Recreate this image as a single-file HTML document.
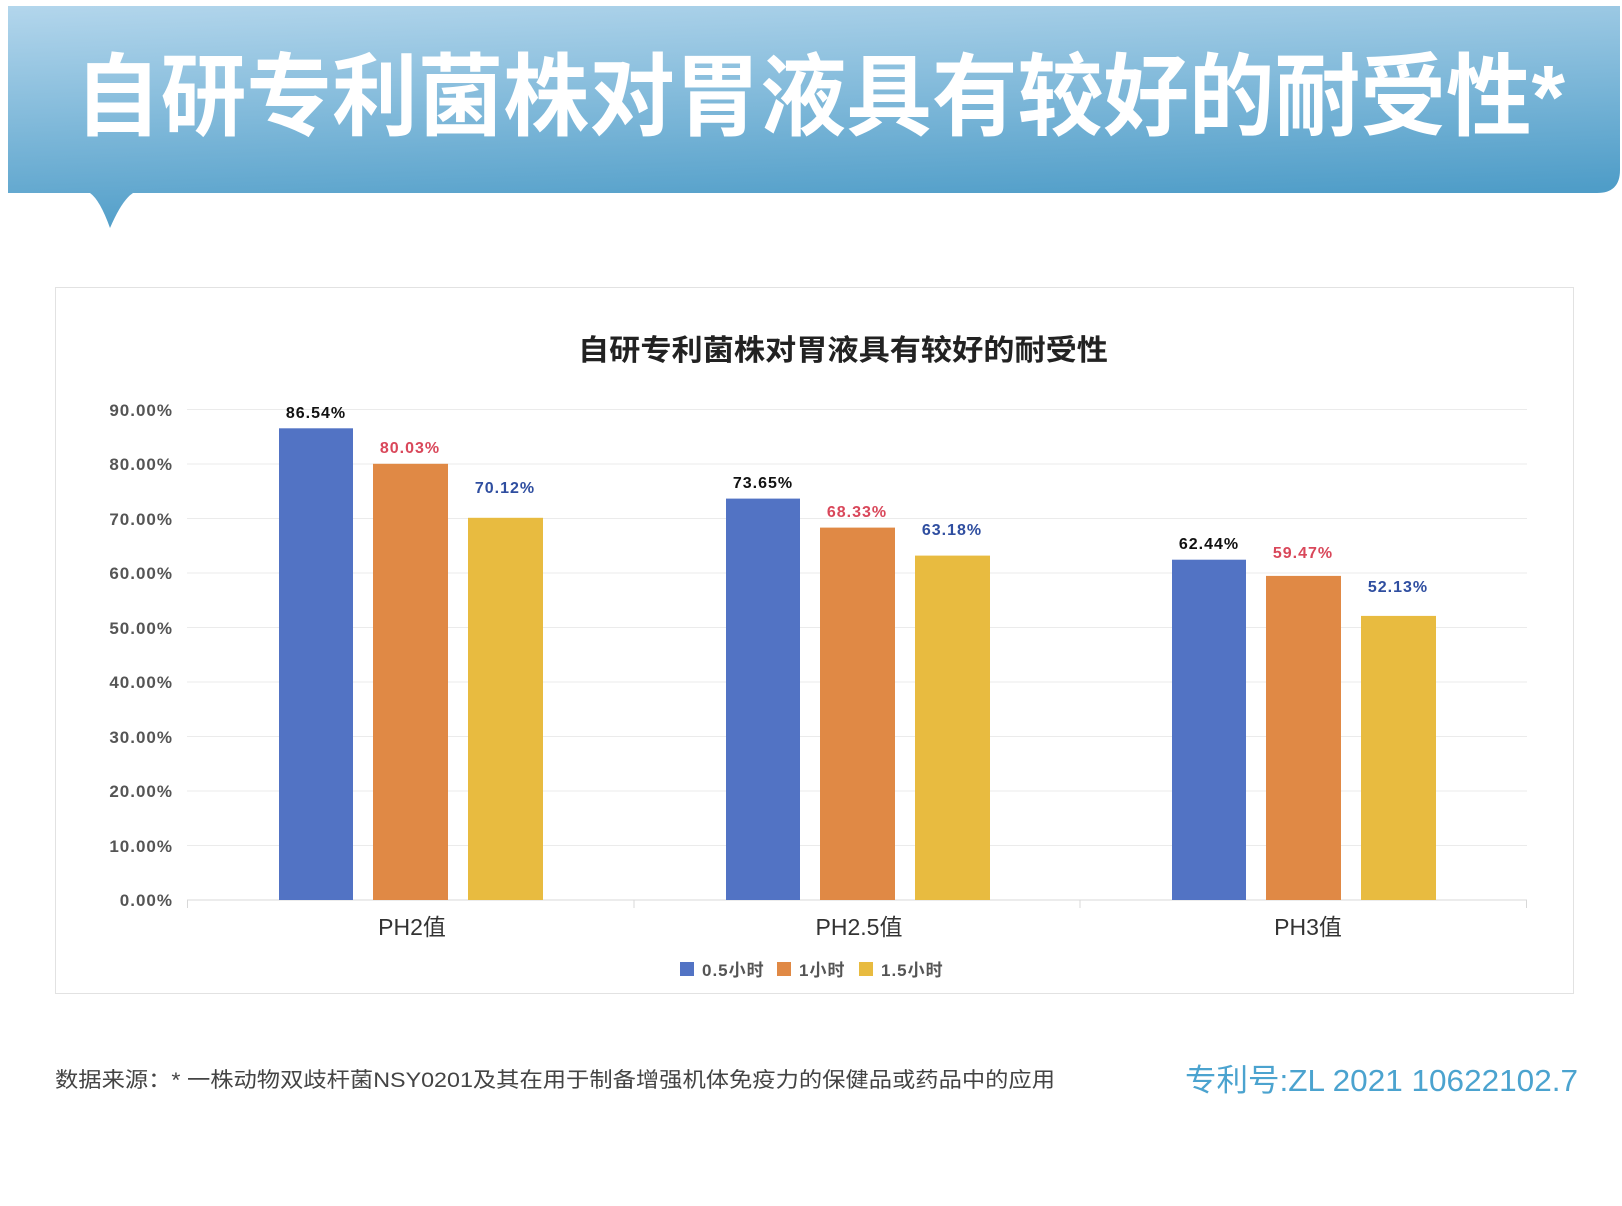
<!DOCTYPE html>
<html><head><meta charset="utf-8"><style>
body{margin:0;background:#fff;width:1622px;height:1206px;overflow:hidden;position:relative;font-family:"Liberation Sans","Noto Sans CJK SC",sans-serif}
</style></head><body>
<svg width="1622" height="1206" viewBox="0 0 1622 1206" style="position:absolute;left:0;top:0" font-family="Liberation Sans, Noto Sans CJK SC, sans-serif">
<defs>
<linearGradient id="g" x1="0" y1="0" x2="0.25" y2="1">
<stop offset="0" stop-color="#b3d6ec"/><stop offset="1" stop-color="#4f9dc8"/>
</linearGradient>
</defs>
<path d="M8,6 H1620 V170 Q1620,193 1597,193 H133 Q122,200 110,228 Q100,200 90,193 H8 Z" fill="url(#g)"/>
<text x="820" y="128" text-anchor="middle" font-size="90" font-weight="bold" fill="#fff" textLength="1490" lengthAdjust="spacingAndGlyphs">自研专利菌株对胃液具有较好的耐受性*</text>
<rect x="55.5" y="287.5" width="1518" height="706" fill="#fff" stroke="#e2e2e2"/>
<text x="843" y="360" text-anchor="middle" font-size="29" font-weight="bold" fill="#222" textLength="530" lengthAdjust="spacingAndGlyphs">自研专利菌株对胃液具有较好的耐受性</text>
<g stroke="#ebebeb" stroke-width="1">
<line x1="187" x2="1527" y1="409.5" y2="409.5"/><line x1="187" x2="1527" y1="464" y2="464"/>
<line x1="187" x2="1527" y1="518.5" y2="518.5"/><line x1="187" x2="1527" y1="573" y2="573"/>
<line x1="187" x2="1527" y1="627.5" y2="627.5"/><line x1="187" x2="1527" y1="682" y2="682"/>
<line x1="187" x2="1527" y1="736.5" y2="736.5"/><line x1="187" x2="1527" y1="791" y2="791"/>
<line x1="187" x2="1527" y1="845.5" y2="845.5"/>
</g>
<g stroke="#d8d8d8"><line x1="187" x2="1527" y1="900" y2="900"/>
<line x1="187.5" x2="187.5" y1="900" y2="908"/><line x1="634" x2="634" y1="900" y2="908"/><line x1="1080" x2="1080" y1="900" y2="908"/><line x1="1526.5" x2="1526.5" y1="900" y2="908"/></g>
<g font-size="17" font-weight="bold" fill="#555" text-anchor="end" letter-spacing="1">
<text x="173" y="416">90.00%</text><text x="173" y="470">80.00%</text><text x="173" y="525">70.00%</text>
<text x="173" y="579">60.00%</text><text x="173" y="634">50.00%</text><text x="173" y="688">40.00%</text>
<text x="173" y="743">30.00%</text><text x="173" y="797">20.00%</text><text x="173" y="852">10.00%</text>
<text x="173" y="906">0.00%</text>
</g>
<g>
<rect x="279" y="428.3" width="74" height="471.7" fill="#5273c4"/>
<rect x="373" y="463.8" width="75" height="436.2" fill="#e08945"/>
<rect x="468" y="517.8" width="75" height="382.2" fill="#e8bb40"/>
<rect x="726" y="498.6" width="74" height="401.4" fill="#5273c4"/>
<rect x="820" y="527.6" width="75" height="372.4" fill="#e08945"/>
<rect x="915" y="555.6" width="75" height="344.4" fill="#e8bb40"/>
<rect x="1172" y="559.7" width="74" height="340.3" fill="#5273c4"/>
<rect x="1266" y="575.9" width="75" height="324.1" fill="#e08945"/>
<rect x="1361" y="615.9" width="75" height="284.1" fill="#e8bb40"/>
</g>
<g font-size="16" font-weight="bold" text-anchor="middle" letter-spacing="1">
<text x="316" y="418" fill="#111">86.54%</text><text x="410" y="453" fill="#d9475a">80.03%</text><text x="505" y="493" fill="#2f4ea0">70.12%</text>
<text x="763" y="488" fill="#111">73.65%</text><text x="857" y="517" fill="#d9475a">68.33%</text><text x="952" y="535" fill="#2f4ea0">63.18%</text>
<text x="1209" y="549" fill="#111">62.44%</text><text x="1303" y="558" fill="#d9475a">59.47%</text><text x="1398" y="592" fill="#2f4ea0">52.13%</text>
</g>
<g font-size="23" fill="#333" text-anchor="middle">
<text x="412" y="935">PH2值</text><text x="859" y="935">PH2.5值</text><text x="1308" y="935">PH3值</text>
</g>
<g font-size="17" font-weight="bold" fill="#555" letter-spacing="1">
<rect x="680" y="962" width="14" height="14" fill="#5273c4"/><text x="702" y="976">0.5小时</text>
<rect x="777" y="962" width="14" height="14" fill="#e08945"/><text x="799" y="976">1小时</text>
<rect x="859" y="962" width="14" height="14" fill="#e8bb40"/><text x="881" y="976">1.5小时</text>
</g>
<text x="55" y="1087" font-size="21" fill="#444" textLength="1000" lengthAdjust="spacingAndGlyphs">数据来源：* 一株动物双歧杆菌NSY0201及其在用于制备增强机体免疫力的保健品或药品中的应用</text>
<text x="1185" y="1091" font-size="31" fill="#4ba3cf" textLength="393" lengthAdjust="spacingAndGlyphs">专利号:ZL 2021 10622102.7</text>
</svg>
</body></html>
